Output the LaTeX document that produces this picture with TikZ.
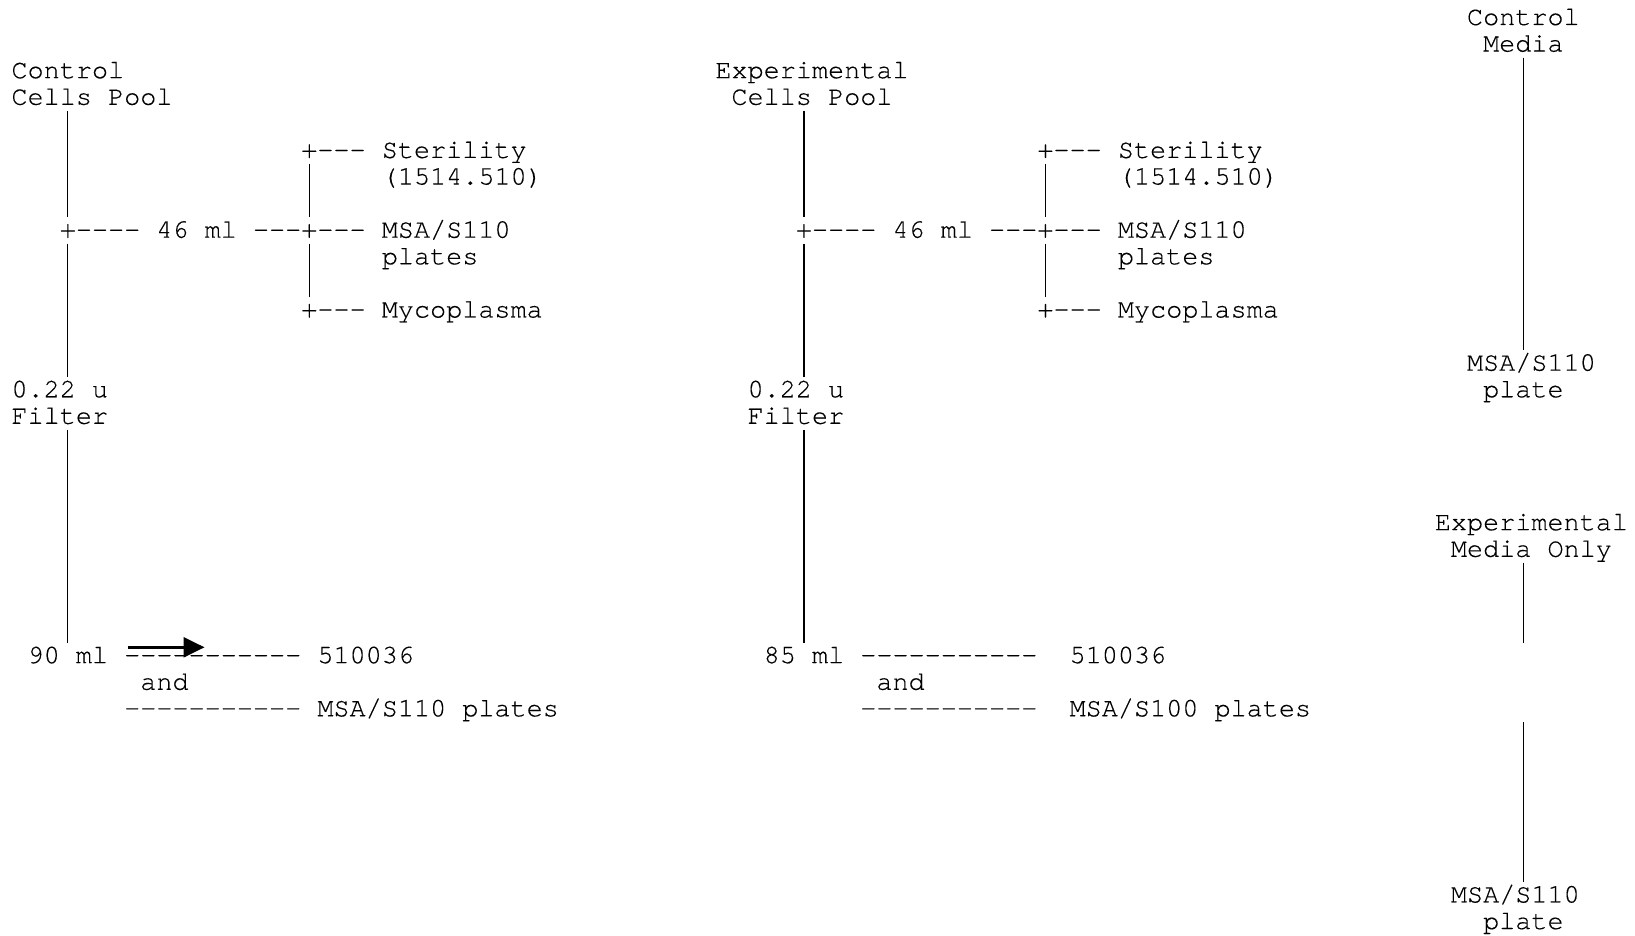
\documentclass[tikz,border=0pt]{standalone}
\usepackage{fontspec}
\setmonofont{TeX Gyre Cursor}[Ligatures=TeXOff, FakeBold=0.25]
\usetikzlibrary{arrows.meta}
\tikzset{
  txt/.style={anchor=base west, inner sep=0pt, outer sep=0pt, font=\ttfamily\fontsize{26.83pt}{26.59pt}\selectfont, text=black},
  vline/.style={draw=black, line width=1.2pt},
  bigarrow/.style={draw=black, line width=2.4pt, -{Triangle[length=21pt,width=20pt]}}
}
\begin{document}
\begin{tikzpicture}[x=16.1pt, y=-26.59pt]
\useasboundingbox (0pt,0pt) rectangle (1635pt,-936pt);
\fill[white] (0pt,0pt) rectangle (1635pt,-936pt);

% ---------------- Section 1: Control cells pool ----------------
\begin{scope}[shift={(11.5pt,0pt)}]
\node[txt] (ctlA) at (0,2.94) {Control};
\node[txt] (ctlB) at (0,3.94) {Cells Pool};
\node[txt] (ctlSter) at (18,5.94) {+--- Sterility};
\node[txt] (ctlSterN) at (23,6.94) {(1514.510)};
\node[txt] (ctlSplit) at (3,8.94) {+---- 46 ml ---+--- MSA/S110};
\node[txt] (ctlPlates) at (23,9.94) {plates};
\node[txt] (ctlMyco) at (18,11.94) {+--- Mycoplasma};
\node[txt] (ctlFiltA) at (0,14.94) {0.22 u};
\node[txt] (ctlFiltB) at (0,15.94) {Filter};
\node[txt] (ctlVol) at (1,24.94) {90 ml};
\node[txt] (ctlDashA) at (7,24.94) {-----------};
\node[txt] (ctlNum) at (19,24.94) {510036};
\node[txt] (ctlAnd) at (8,25.94) {and};
\node[txt] (ctlDashB) at (7,26.94) {-----------};
\node[txt] (ctlMsa) at (19,26.94) {MSA/S110 plates};
\coordinate (c1a) at (3.5,4.1666);
\coordinate (c1b) at (3.5,8.1666);
\coordinate (c1c) at (3.5,9.1666);
\coordinate (c1d) at (3.5,14.1666);
\coordinate (c1e) at (3.5,16.1666);
\coordinate (c1f) at (3.5,24.1666);
\coordinate (c1g) at (18.5,6.1666);
\coordinate (c1h) at (18.5,8.1666);
\coordinate (c1i) at (18.5,9.1666);
\coordinate (c1j) at (18.5,11.1666);
\draw[vline] (c1a) -- (c1b);
\draw[vline] (c1c) -- (c1d);
\draw[vline] (c1e) -- (c1f);
\draw[vline] (c1g) -- (c1h);
\draw[vline] (c1i) -- (c1j);
\end{scope}
\coordinate (arrS) at (127.7pt,-647.3pt);
\coordinate (arrE) at (204.5pt,-647.3pt);
\draw[bigarrow] (arrS) -- (arrE);

% ---------------- Section 2: Experimental cells pool ----------------
\begin{scope}[shift={(747.6pt,0pt)}]
\node[txt] (expA) at (-2,2.94) {Experimental};
\node[txt] (expB) at (-1,3.94) {Cells Pool};
\node[txt] (expSter) at (18,5.94) {+--- Sterility};
\node[txt] (expSterN) at (23,6.94) {(1514.510)};
\node[txt] (expSplit) at (3,8.94) {+---- 46 ml ---+--- MSA/S110};
\node[txt] (expPlates) at (23,9.94) {plates};
\node[txt] (expMyco) at (18,11.94) {+--- Mycoplasma};
\node[txt] (expFiltA) at (0,14.94) {0.22 u};
\node[txt] (expFiltB) at (0,15.94) {Filter};
\node[txt] (expVol) at (1,24.94) {85 ml};
\node[txt] (expDashA) at (7,24.94) {-----------};
\node[txt] (expNum) at (20,24.94) {510036};
\node[txt] (expAnd) at (8,25.94) {and};
\node[txt] (expDashB) at (7,26.94) {-----------};
\node[txt] (expMsa) at (20,26.94) {MSA/S100 plates};
\coordinate (e1a) at (3.5,4.1666);
\coordinate (e1b) at (3.5,8.1666);
\coordinate (e1c) at (3.5,9.1666);
\coordinate (e1d) at (3.5,14.1666);
\coordinate (e1e) at (3.5,16.1666);
\coordinate (e1f) at (3.5,24.1666);
\coordinate (e1g) at (18.5,6.1666);
\coordinate (e1h) at (18.5,8.1666);
\coordinate (e1i) at (18.5,9.1666);
\coordinate (e1j) at (18.5,11.1666);
\draw[vline] (e1a) -- (e1b);
\draw[vline] (e1c) -- (e1d);
\draw[vline] (e1e) -- (e1f);
\draw[vline] (e1g) -- (e1h);
\draw[vline] (e1i) -- (e1j);
\end{scope}

% ---------------- Section 3: Media controls ----------------
\begin{scope}[shift={(1467pt,0pt)}]
\node[txt] (cmA) at (0,0.94) {Control};
\node[txt] (cmB) at (1,1.94) {Media};
\node[txt] (cmPlA) at (0,13.94) {MSA/S110};
\node[txt] (cmPlB) at (1,14.94) {plate};
\node[txt] (emA) at (-2,19.94) {Experimental};
\node[txt] (emB) at (-1,20.94) {Media Only};
\node[txt] (emPlA) at (-1,33.94) {MSA/S110};
\node[txt] (emPlB) at (1,34.94) {plate};
\coordinate (m1a) at (3.5,2.1666);
\coordinate (m1b) at (3.5,13.1666);
\coordinate (m2a) at (3.5,21.1666);
\coordinate (m2b) at (3.5,24.1666);
\coordinate (m2c) at (3.5,27.1666);
\coordinate (m2d) at (3.5,33.1666);
\draw[vline] (m1a) -- (m1b);
\draw[vline] (m2a) -- (m2b);
\draw[vline] (m2c) -- (m2d);
\end{scope}
\end{tikzpicture}
\end{document}
